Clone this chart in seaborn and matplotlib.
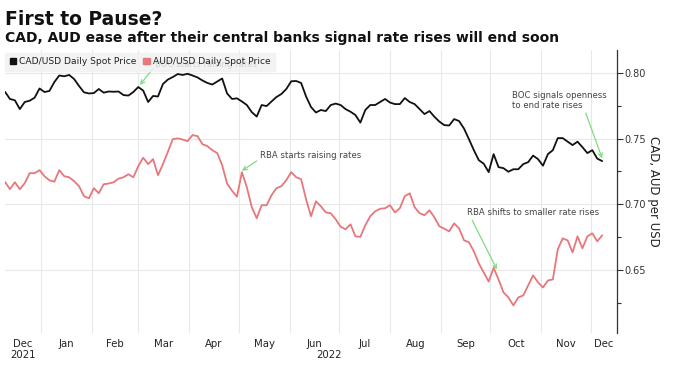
import matplotlib
matplotlib.use("Agg")
import matplotlib.pyplot as plt
import matplotlib.transforms as mtransforms
from matplotlib.patches import Patch
import numpy as np
import pandas as pd
import seaborn as sns

# ---------------- data ----------------
dates = pd.date_range("2021-12-10", periods=122, freq="3D")

cad = [0.7857, 0.7802, 0.7792, 0.7725, 0.7779, 0.7789, 0.7812, 0.7882, 0.7855, 0.7863,
       0.7931, 0.7981, 0.7975, 0.7985, 0.7954, 0.7901, 0.7853, 0.7844, 0.7847, 0.7878,
       0.7850, 0.7859, 0.7857, 0.7859, 0.7832, 0.7828, 0.7855, 0.7893, 0.7866, 0.7779,
       0.7825, 0.7821, 0.7916, 0.7950, 0.7969, 0.7992, 0.7985, 0.7994, 0.7981, 0.7966,
       0.7943, 0.7924, 0.7912, 0.7935, 0.7958, 0.7844, 0.7802, 0.7807, 0.7783, 0.7756,
       0.7702, 0.7668, 0.7756, 0.7748, 0.7783, 0.7817, 0.7840, 0.7878, 0.7937, 0.7939,
       0.7924, 0.7821, 0.7741, 0.7699, 0.7718, 0.7710, 0.7756, 0.7767, 0.7756, 0.7725,
       0.7705, 0.7680, 0.7622, 0.7718, 0.7756, 0.7756, 0.7779, 0.7802, 0.7775, 0.7763,
       0.7763, 0.7809, 0.7779, 0.7763, 0.7725, 0.7687, 0.7710, 0.7667, 0.7630, 0.7603,
       0.7600, 0.7649, 0.7634, 0.7577, 0.7496, 0.7412, 0.7336, 0.7309, 0.7245, 0.7382,
       0.7283, 0.7275, 0.7248, 0.7267, 0.7267, 0.7306, 0.7321, 0.7371, 0.7344, 0.7294,
       0.7382, 0.7412, 0.7504, 0.7504, 0.7477, 0.7451, 0.7477, 0.7435, 0.7390, 0.7412,
       0.7348, 0.7329]

aud = [0.7171, 0.7115, 0.7168, 0.7115, 0.7161, 0.7237, 0.7237, 0.7260, 0.7214, 0.7183,
       0.7172, 0.7260, 0.7214, 0.7206, 0.7176, 0.7138, 0.7062, 0.7046, 0.7123, 0.7084,
       0.7153, 0.7158, 0.7168, 0.7195, 0.7206, 0.7229, 0.7206, 0.7290, 0.7355, 0.7306,
       0.7344, 0.7222, 0.7306, 0.7400, 0.7496, 0.7502, 0.7493, 0.7481, 0.7527, 0.7519,
       0.7458, 0.7443, 0.7412, 0.7390, 0.7298, 0.7157, 0.7103, 0.7058, 0.7245, 0.7130,
       0.6978, 0.6894, 0.6993, 0.6993, 0.7069, 0.7123, 0.7138, 0.7184, 0.7245, 0.7206,
       0.7191, 0.7039, 0.6909, 0.7023, 0.6985, 0.6939, 0.6932, 0.6886, 0.6829, 0.6810,
       0.6848, 0.6756, 0.6752, 0.6840, 0.6909, 0.6947, 0.6966, 0.6970, 0.6993, 0.6939,
       0.6970, 0.7062, 0.7084, 0.6978, 0.6932, 0.6917, 0.6955, 0.6901, 0.6833, 0.6814,
       0.6794, 0.6855, 0.6817, 0.6726, 0.6711, 0.6642, 0.6550, 0.6481, 0.6412, 0.6516,
       0.6428, 0.6329, 0.6291, 0.6230, 0.6291, 0.6306, 0.6382, 0.6459, 0.6405, 0.6367,
       0.6420, 0.6428, 0.6657, 0.6741, 0.6725, 0.6634, 0.6756, 0.6665, 0.6756, 0.6779,
       0.6718, 0.6764]

series_names = ["CAD/USD Daily Spot Price", "AUD/USD Daily Spot Price"]
series_colors = ["#111111", "#e8777b"]
month_labels = ["Dec", "Jan", "Feb", "Mar", "Apr", "May", "Jun",
                "Jul", "Aug", "Sep", "Oct", "Nov", "Dec"]
year_labels = ["2021", "2022"]
ytick_values = [0.65, 0.70, 0.75, 0.80]
yminor_values = [0.625, 0.675, 0.725, 0.775]

title = "First to Pause?"
subtitle = "CAD, AUD ease after their central banks signal rate rises will end soon"
ylabel = "CAD, AUD per USD"

# annotations: (text, text position, arrow tail, arrow head)
notes = [
    ("BOC starts raising rates", ("2022-03-11", 0.8061), ("2022-03-10", 0.8036), ("2022-03-02", 0.7908)),
    ("RBA starts raising rates", ("2022-05-14", 0.7374), ("2022-05-12", 0.7330), ("2022-05-03", 0.7255)),
    ("RBA shifts to smaller rate rises", ("2022-09-17", 0.6939), ("2022-09-20", 0.6878), ("2022-10-05", 0.6504)),
    ("BOC signals openness\nto end rate rises", ("2022-10-14", 0.7790), ("2022-11-28", 0.7695), ("2022-12-08", 0.7350)),
]

# ---------------- figure ----------------
sns.set_theme(style="white")
plt.rcParams["font.family"] = ["DejaVu Sans"]

W, H = 679, 369
fig = plt.figure(figsize=(W / 100, H / 100), dpi=100)
fig.patch.set_facecolor("white")
ax = fig.add_axes([5 / W, 36 / H, 612 / W, 283 / H])

df = pd.DataFrame({"date": dates, series_names[0]: cad, series_names[1]: aud})
long = df.melt("date", var_name="series", value_name="value")
sns.lineplot(data=long, x="date", y="value", hue="series",
             palette=dict(zip(series_names, series_colors)),
             linewidth=1.3, legend=False, ax=ax, zorder=3)

x0 = pd.Timestamp("2021-12-10")
x1 = pd.Timestamp("2022-12-17")
ax.set_xlim(x0, x1)
ax.set_ylim(0.602, 0.8175)

# spines
for s in ["left", "top", "bottom"]:
    ax.spines[s].set_visible(False)
ax.spines["right"].set_color("#333333")
ax.spines["right"].set_linewidth(0.9)

# y axis on right
ax.yaxis.tick_right()
ax.set_yticks(ytick_values)
ax.set_yticklabels([f"{v:.2f}" for v in ytick_values])
ax.set_yticks(yminor_values, minor=True)
ax.tick_params(axis="y", which="both", direction="out", length=4, width=0.8,
               colors="#333333", labelsize=7, pad=1.5, right=True, left=False)
ax.tick_params(axis="y", which="minor", length=3)
ax.set_ylabel(ylabel, rotation=270, fontsize=8.5, color="#222222", va="center")
ax.yaxis.set_label_position("right")
ax.yaxis.set_label_coords((660 - 5) / 612, 0.5)

# x axis: gridlines at month starts, labels at mid-month (visible part)
month_starts = pd.date_range("2022-01-01", "2022-12-01", freq="MS")
ax.set_xticks(month_starts)
ax.set_xticklabels([""] * len(month_starts))
bounds = [x0] + list(month_starts) + [x1]
mids = [bounds[i] + (bounds[i + 1] - bounds[i]) / 2 for i in range(len(bounds) - 1)]
ax.set_xticks(mids, minor=True)
ax.set_xticklabels(month_labels, minor=True)
ax.tick_params(axis="x", which="both", length=0, labelsize=7.3, colors="#222222", pad=4)

ax.grid(True, which="major", axis="both", color="#e8e8e8", linewidth=0.8)
ax.grid(False, which="minor")
ax.set_xlabel("")

# year labels
trans = mtransforms.blended_transform_factory(ax.transData, ax.transAxes)
y2021_mid = x0 + (pd.Timestamp("2022-01-01") - x0) / 2
y2022_mid = pd.Timestamp("2022-01-01") + (x1 - pd.Timestamp("2022-01-01")) / 2
for d, lab in zip([y2021_mid, y2022_mid], year_labels):
    ax.text(d, -22 / 283, lab, transform=trans, ha="center", va="center",
            fontsize=7.3, color="#222222")

# annotations
for txt, tpos, tail, head in notes:
    ax.text(pd.Timestamp(tpos[0]), tpos[1], txt, fontsize=6.1, color="#444444",
            ha="left", va="center", linespacing=1.1, zorder=2)
    ax.annotate("", xy=(pd.Timestamp(head[0]), head[1]),
                xytext=(pd.Timestamp(tail[0]), tail[1]),
                arrowprops=dict(arrowstyle="->", color="#7fdc7f", lw=0.9,
                                shrinkA=0, shrinkB=0, mutation_scale=7),
                zorder=4)

# legend
handles = [Patch(facecolor=c, edgecolor=c) for c in series_colors]
leg = ax.legend(handles, series_names, loc="upper left", bbox_to_anchor=(0.0, 0.99),
                ncol=2, fontsize=6.6, frameon=True, fancybox=False,
                handlelength=0.7, handleheight=0.7, handletextpad=0.3,
                columnspacing=0.8, borderpad=0.5, borderaxespad=0.0)
leg.get_frame().set_facecolor("#f1f1f1")
leg.get_frame().set_edgecolor("#f1f1f1")
leg.get_frame().set_alpha(0.82)
leg.set_zorder(5)
for t in leg.get_texts():
    t.set_color("#222222")

# titles
fig.text(5 / W, 1 - 25 / H, title, fontsize=13.5, fontweight="bold",
         color="#111111", ha="left", va="baseline")
fig.text(5 / W, 1 - 42 / H, subtitle, fontsize=10, fontweight="bold",
         color="#111111", ha="left", va="baseline")

fig.savefig("out.png", dpi=100, facecolor="white")
